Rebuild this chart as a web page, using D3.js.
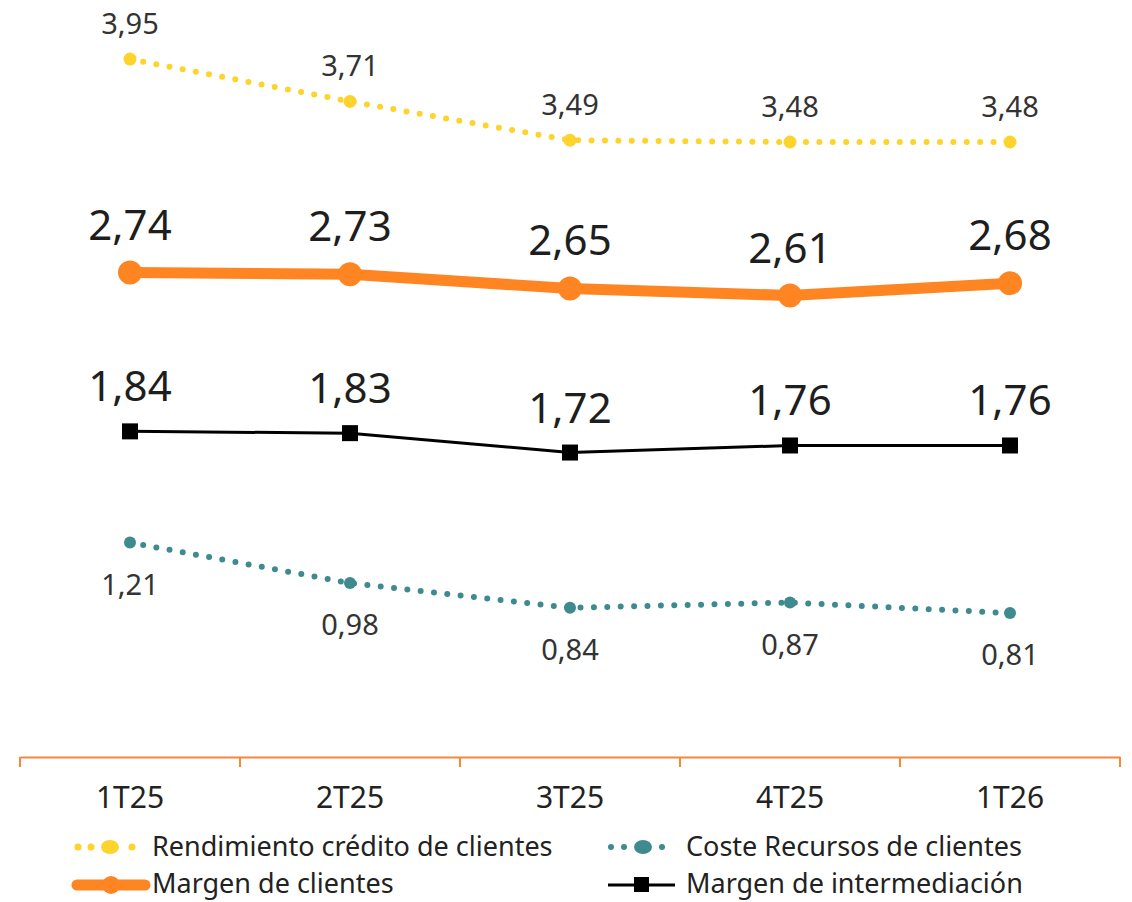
<!DOCTYPE html>
<html><head><meta charset="utf-8">
<script src="https://cdn.jsdelivr.net/npm/d3@7"></script>
<style>body{margin:0;background:#fff}svg{display:block}text{font-family:"Noto Sans",sans-serif;fill:#222}</style>
</head><body><svg id="c" width="1132" height="902"></svg>
<script>
const categories = ["1T25","2T25","3T25","4T25","1T26"];
const rendimiento = [3.95,3.71,3.49,3.48,3.48];
const margenClientes = [2.74,2.73,2.65,2.61,2.68];
const margenInter = [1.84,1.83,1.72,1.76,1.76];
const coste = [1.21,0.98,0.84,0.87,0.81];
const legendLabels = ["Rendimiento crédito de clientes","Coste Recursos de clientes","Margen de clientes","Margen de intermediación"];

const svg = d3.select("#c");
const x = d3.scaleBand().domain(categories).range([20,1120]);
const y = d3.scaleLinear().domain([0,4.2]).range([756,15]);
const cx = d => x(d) + x.bandwidth()/2;
const fmt = v => v.toFixed(2).replace(".", ",");

const axis = svg.append("g").attr("transform","translate(0,757)")
  .call(d3.axisBottom(x).tickSize(0).tickPadding(30));
axis.select(".domain").attr("stroke","#f7883a").attr("stroke-width",2);
axis.selectAll(".tick text").style("font-size","30px").style("font-family","'Noto Sans',sans-serif").attr("fill","#222").attr("dy","0.71em");
// band boundary ticks
const bounds = categories.map(c => x(c)).concat([x.range()[1]]);
svg.append("g").selectAll("line").data(bounds).join("line")
  .attr("x1",d=>d).attr("x2",d=>d).attr("y1",757).attr("y2",767)
  .attr("stroke","#f7883a").attr("stroke-width",2);

const line = d3.line().x((d,i)=>cx(categories[i])).y(d=>y(d));

function dotted(vals,color,r,labelDy){
  svg.append("path").datum(vals).attr("d",line).attr("fill","none")
    .attr("stroke",color).attr("stroke-width",6).attr("stroke-linecap","round").attr("stroke-dasharray","0 13.4");
  svg.append("g").selectAll("circle").data(vals).join("circle")
    .attr("cx",(d,i)=>cx(categories[i])).attr("cy",d=>y(d)).attr("r",r).attr("fill",color);
  svg.append("g").selectAll("text").data(vals).join("text")
    .attr("x",(d,i)=>cx(categories[i])).attr("y",d=>y(d)+labelDy)
    .attr("text-anchor","middle").style("font-size","29px").style("fill","#333").text(fmt);
}
dotted(rendimiento,"#fdd32c",6.5,-25);
dotted(coste,"#3e8a8f",6,52);

svg.append("path").datum(margenClientes).attr("d",line).attr("fill","none")
  .attr("stroke","#fe8522").attr("stroke-width",11);
svg.append("g").selectAll("circle").data(margenClientes).join("circle")
  .attr("cx",(d,i)=>cx(categories[i])).attr("cy",d=>y(d)).attr("r",12).attr("fill","#fe8522");
svg.append("g").selectAll("text").data(margenClientes).join("text")
  .attr("x",(d,i)=>cx(categories[i])).attr("y",d=>y(d)-33)
  .attr("text-anchor","middle").style("font-size","42px").style("fill","#1e1e1e").text(fmt);

svg.append("path").datum(margenInter).attr("d",line).attr("fill","none")
  .attr("stroke","#000").attr("stroke-width",3);
svg.append("g").selectAll("rect").data(margenInter).join("rect")
  .attr("x",(d,i)=>cx(categories[i])-8).attr("y",d=>y(d)-8).attr("width",16).attr("height",16).attr("fill","#000");
svg.append("g").selectAll("text").data(margenInter).join("text")
  .attr("x",(d,i)=>cx(categories[i])).attr("y",d=>y(d)-30)
  .attr("text-anchor","middle").style("font-size","42px").style("fill","#1e1e1e").text(fmt);

// legend
const lg = svg.append("g");
function legText(tx,ty,t){ lg.append("text").attr("x",tx).attr("y",ty).style("font-size","27px").style("fill","#222").text(t); }
// item 1: yellow dotted
[78,91].forEach(px=>lg.append("circle").attr("cx",px).attr("cy",847).attr("r",3.5).attr("fill","#fdd32c"));
lg.append("ellipse").attr("cx",110).attr("cy",847).attr("rx",9).attr("ry",7).attr("fill","#fdd32c");
lg.append("circle").attr("cx",132).attr("cy",847).attr("r",3.5).attr("fill","#fdd32c");
legText(152,856,legendLabels[0]);
// item 2: teal dotted
[611,624].forEach(px=>lg.append("circle").attr("cx",px).attr("cy",847).attr("r",3).attr("fill","#3e8a8f"));
lg.append("ellipse").attr("cx",643).attr("cy",847).attr("rx",9).attr("ry",7).attr("fill","#3e8a8f");
lg.append("circle").attr("cx",662).attr("cy",847).attr("r",3).attr("fill","#3e8a8f");
legText(686,856,legendLabels[1]);
// item 3: orange
lg.append("line").attr("x1",77).attr("x2",145).attr("y1",885).attr("y2",885).attr("stroke","#fe8522").attr("stroke-width",11).attr("stroke-linecap","round");
lg.append("circle").attr("cx",111).attr("cy",885).attr("r",9).attr("fill","#fe8522");
legText(152,893,legendLabels[2]);
// item 4: black
lg.append("line").attr("x1",608).attr("x2",675).attr("y1",885).attr("y2",885).attr("stroke","#000").attr("stroke-width",3);
lg.append("rect").attr("x",634).attr("y",877).attr("width",15).attr("height",15).attr("fill","#000");
legText(686,893,legendLabels[3]);
</script></body></html>
